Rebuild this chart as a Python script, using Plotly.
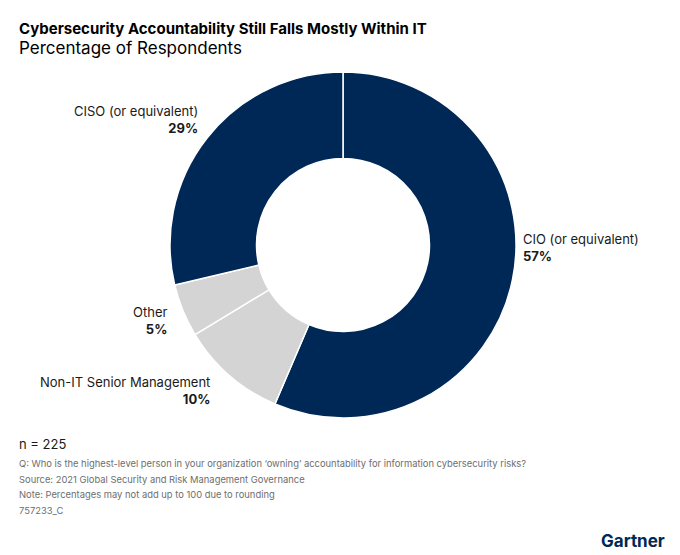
import plotly.graph_objects as go

categories = ["CIO (or equivalent)", "Non-IT Senior Management", "Other", "CISO (or equivalent)"]
values = [57, 10, 5, 29]
colors = ["#002856", "#d4d4d4", "#d4d4d4", "#002856"]

title = "Cybersecurity Accountability Still Falls Mostly Within IT"
subtitle = "Percentage of Respondents"
footer_n = "n = 225"
footer_lines = [
    "Q: Who is the highest-level person in your organization \u2018owning\u2019 accountability for information cybersecurity risks?",
    "Source: 2021 Global Security and Risk Management Governance",
    "Note: Percentages may not add up to 100 due to rounding",
    "757233_C",
]

W, H = 680, 555
cx, cy, R = 343, 245, 173

fig = go.Figure(go.Pie(
    labels=categories,
    values=values,
    marker=dict(colors=colors, line=dict(color="white", width=1.5)),
    hole=0.5,
    sort=False,
    direction="clockwise",
    rotation=0,
    textinfo="none",
    hoverinfo="label+percent",
    showlegend=False,
    domain=dict(x=[(cx - R) / W, (cx + R) / W], y=[1 - (cy + R) / H, 1 - (cy - R) / H]),
))

FONT = "Inter"
ann = []
# slice labels: (x px, y px of first line centre, anchor)
label_pos = [(521, 238, "left"), (212, 381, "right"), (169, 311, "right"), (200, 110, "right")]
for cat, val, (px, py, anc) in zip(categories, values, label_pos):
    ann.append(dict(
        x=px / W, y=1 - (py - 9) / H, xref="paper", yref="paper",
        xanchor=anc, yanchor="top", align=anc, showarrow=False,
        text=f"{cat}<br><b>{val}%</b>",
        font=dict(family=FONT, size=13, color="#1a1a1a"),
    ))

ann.append(dict(x=17 / W, y=1 - 17 / H, xref="paper", yref="paper", xanchor="left", yanchor="top",
                showarrow=False, text=f"<b>{title}</b>", font=dict(family=FONT, size=15, color="#000000")))
ann.append(dict(x=17 / W, y=1 - 36 / H, xref="paper", yref="paper", xanchor="left", yanchor="top",
                showarrow=False, text=subtitle, font=dict(family=FONT, size=17, color="#000000")))
ann.append(dict(x=17 / W, y=1 - 434 / H, xref="paper", yref="paper", xanchor="left", yanchor="top",
                showarrow=False, text=footer_n, font=dict(family=FONT, size=13, color="#1a1a1a")))
for i, line in enumerate(footer_lines):
    ann.append(dict(x=17 / W, y=1 - (456 + i * 15.6) / H, xref="paper", yref="paper", xanchor="left",
                    yanchor="top", showarrow=False, text=line,
                    font=dict(family=FONT, size=9.4, color="#6e6e6e")))
ann.append(dict(x=667 / W, y=1 - 541 / H, xref="paper", yref="paper", xanchor="right", yanchor="middle",
                showarrow=False, text="<b>Gartner</b>",
                font=dict(family=FONT, size=17, color="#002856")))

fig.update_layout(
    width=W, height=H,
    margin=dict(l=0, r=0, t=0, b=0),
    paper_bgcolor="white", plot_bgcolor="white",
    annotations=ann,
)

fig.write_html("out.html", config={"displayModeBar": False},
               post_script="document.body.style.margin='0';document.body.style.overflow='hidden';")
